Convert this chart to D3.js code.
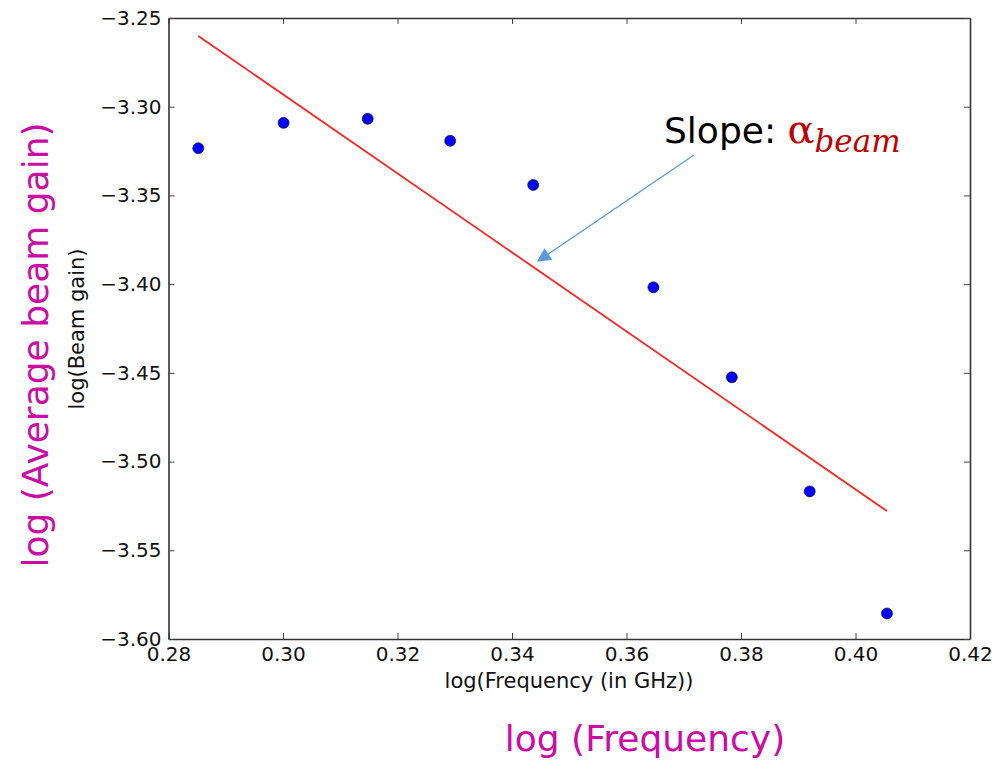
<!DOCTYPE html>
<html>
<head>
<meta charset="utf-8">
<script src="https://cdn.jsdelivr.net/npm/d3@7"></script>
<style>
  body { margin: 0; background: #fff; }
  svg text { font-family: "DejaVu Sans", sans-serif; }
</style>
</head>
<body>
<div id="chart"></div>
<script>
// measured points: log(frequency in GHz) vs log(beam gain)
var logFreq = [0.2852, 0.3001, 0.3148, 0.3292, 0.3437, 0.3647, 0.3784, 0.3920, 0.4055]
var logGain = [-3.3234, -3.3091, -3.3068, -3.3192, -3.3441, -3.4018, -3.4525, -3.5168, -3.5856]

// fitted line end points
var fitX = [0.2852, 0.4055]
var fitY = [-3.2601, -3.5279]

var xTicks = [0.28, 0.30, 0.32, 0.34, 0.36, 0.38, 0.40, 0.42]
var yTicks = [-3.25, -3.30, -3.35, -3.40, -3.45, -3.50, -3.55, -3.60]

var width = 997
var height = 760
var plotLeft = 168.5, plotRight = 970, plotTop = 18, plotBottom = 639

var svg = d3.select("#chart")
  .append("svg")
  .attr("width", width)
  .attr("height", height)

var xScale = d3.scaleLinear()
  .domain([0.28, 0.42])
  .range([plotLeft, plotRight])

var yScale = d3.scaleLinear()
  .domain([-3.25, -3.60])
  .range([plotTop, plotBottom])

var fmt = function(d) { return d3.format(".2f")(d).replace("-", "\u2212") }

// axes, ticks pointing inwards like old matplotlib
var xAxisBottom = d3.axisBottom(xScale).tickValues(xTicks).tickSizeInner(-6).tickSizeOuter(0).tickPadding(8).tickFormat(fmt)
var xAxisTop = d3.axisTop(xScale).tickValues(xTicks).tickSizeInner(-6).tickSizeOuter(0).tickFormat("")
var yAxisLeft = d3.axisLeft(yScale).tickValues(yTicks).tickSizeInner(-6).tickSizeOuter(0).tickPadding(7).tickFormat(fmt)
var yAxisRight = d3.axisRight(yScale).tickValues(yTicks).tickSizeInner(-6).tickSizeOuter(0).tickFormat("")

svg.append("g").attr("class", "axis").attr("transform", "translate(0," + plotBottom + ")").call(xAxisBottom)
svg.append("g").attr("class", "axis").attr("transform", "translate(0," + plotTop + ")").call(xAxisTop)
svg.append("g").attr("class", "axis").attr("transform", "translate(" + plotLeft + ",0)").call(yAxisLeft)
svg.append("g").attr("class", "axis").attr("transform", "translate(" + plotRight + ",0)").call(yAxisRight)

svg.selectAll(".axis path")
  .attr("stroke", "#333")
  .attr("stroke-width", 1.6)
svg.selectAll(".axis line")
  .attr("stroke", "#444")
  .attr("stroke-width", 1)
svg.selectAll(".axis text")
  .attr("font-family", "DejaVu Sans, sans-serif")
  .attr("font-size", "20px")
  .attr("fill", "#111")

// fit line
svg.append("line")
  .attr("x1", xScale(fitX[0]))
  .attr("y1", yScale(fitY[0]))
  .attr("x2", xScale(fitX[1]))
  .attr("y2", yScale(fitY[1]))
  .attr("stroke", "#ff2020")
  .attr("stroke-width", 1.8)

// points
svg.selectAll("circle")
  .data(logFreq)
  .enter()
  .append("circle")
  .attr("cx", function(d) { return xScale(d) })
  .attr("cy", function(d, i) { return yScale(logGain[i]) })
  .attr("r", 5.5)
  .attr("fill", "#0000ff")
  .attr("stroke", "#000")
  .attr("stroke-width", 0.6)

// matplotlib axis labels
svg.append("text")
  .text("log(Frequency (in GHz))")
  .attr("x", 569)
  .attr("y", 688)
  .attr("text-anchor", "middle")
  .attr("font-size", "21px")
  .attr("fill", "#111")

svg.append("text")
  .text("log(Beam gain)")
  .attr("transform", "translate(84,329) rotate(-90)")
  .attr("text-anchor", "middle")
  .attr("font-size", "21px")
  .attr("fill", "#111")

// slide annotations
svg.append("text")
  .text("log (Frequency)")
  .attr("x", 645)
  .attr("y", 751)
  .attr("text-anchor", "middle")
  .attr("font-family", "Open Sans, sans-serif")
  .attr("font-size", "36px")
  .attr("fill", "#cc0aa5")

svg.append("text")
  .text("log (Average beam gain)")
  .attr("transform", "translate(48,345) rotate(-90)")
  .attr("text-anchor", "middle")
  .attr("font-family", "Open Sans, sans-serif")
  .attr("font-size", "36px")
  .attr("fill", "#cc0aa5")

var slope = svg.append("text")
  .attr("x", 664)
  .attr("y", 143)
  .attr("font-family", "Open Sans, sans-serif")
  .attr("font-size", "36px")
  .attr("fill", "#000")
slope.append("tspan").text("Slope: ")
slope.append("tspan").text("\u03b1").attr("fill", "#c00000")
  .attr("font-family", "DejaVu Serif, serif").attr("font-size", "40px")
slope.append("tspan").text("beam").attr("fill", "#c00000")
  .attr("font-family", "DejaVu Serif, serif").attr("font-style", "italic")
  .attr("font-size", "31px").attr("dy", 9)

// arrow
svg.append("defs").append("marker")
  .attr("id", "head")
  .attr("viewBox", "0 0 10 10")
  .attr("refX", 9)
  .attr("refY", 5)
  .attr("markerWidth", 18)
  .attr("markerHeight", 14)
  .attr("markerUnits", "userSpaceOnUse")
  .attr("orient", "auto")
  .append("path")
  .attr("d", "M0,0 L10,5 L0,10 Z")
  .attr("fill", "#5b9bd5")

svg.append("line")
  .attr("x1", 694)
  .attr("y1", 155)
  .attr("x2", 538)
  .attr("y2", 261)
  .attr("stroke", "#5b9bd5")
  .attr("stroke-width", 1.3)
  .attr("marker-end", "url(#head)")
</script>
</body>
</html>
